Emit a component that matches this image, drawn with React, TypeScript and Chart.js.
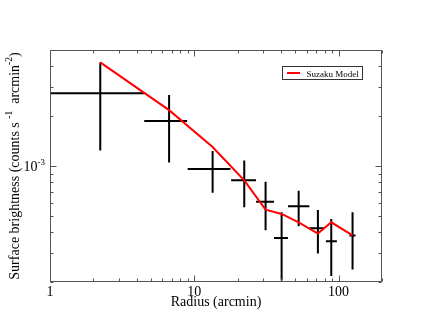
import React, { useEffect, useRef } from "react";
import { Chart, registerables } from "chart.js";

Chart.register(...registerables);

// Data (radius in arcmin, surface brightness in counts s^-1 arcmin^-2)
const radius = [2.23, 6.69, 13.4, 22.2, 31.2, 40.3, 52.9, 71.9, 89.0, 125];
const radiusLo = [0.2, 4.5, 9.0, 18.0, 26.8, 35.7, 44.6, 62.7, 81.7, 119];
const radiusHi = [4.47, 8.92, 17.8, 26.8, 35.7, 44.6, 62.7, 79.1, 97.3, 131];
const brightness = [2.74e-3, 1.87e-3, 9.6e-4, 8.2e-4, 6.1e-4, 3.68e-4, 5.72e-4, 4.21e-4, 3.52e-4, 3.81e-4];
const brightnessHi = [4.21e-3, 2.68e-3, 1.23e-3, 1.08e-3, 8.05e-4, 5.26e-4, 7.1e-4, 5.43e-4, 4.8e-4, 5.26e-4];
const brightnessLo = [1.24e-3, 1.05e-3, 6.9e-4, 5.64e-4, 4.1e-4, 2.04e-4, 4.33e-4, 2.97e-4, 2.17e-4, 2.38e-4];
const suzakuModel = [4.21e-3, 2.17e-3, 1.3e-3, 8.2e-4, 5.46e-4, 5.14e-4, 4.58e-4, 3.92e-4, 4.58e-4, 3.82e-4];

const xMajorTicks = [1, 10, 100];
const xTickLabels = ["1", "10", "100"];
const xMinorTicks = [2, 3, 4, 5, 6, 7, 8, 9, 20, 30, 40, 50, 60, 70, 80, 90, 200];
const yMajorTicks = [1e-3];
const yMinorTicks = [2e-4, 3e-4, 4e-4, 5e-4, 6e-4, 7e-4, 8e-4, 9e-4, 2e-3, 3e-3, 4e-3, 5e-3];

const xTitle = "Radius (arcmin)";
const legendLabel = "Suzaku Model";

const SERIF = "'Liberation Serif', 'Times New Roman', serif";
const AXIS_COLOR = "#555";

const customPlugin = {
  id: "customDraw",
  beforeDatasetsDraw(chart: any) {
    const { ctx, chartArea: a, scales } = chart;
    const x = scales.x, y = scales.y;
    ctx.save();
    ctx.beginPath();
    ctx.rect(a.left, a.top, a.right - a.left, a.bottom - a.top);
    ctx.clip();
    ctx.strokeStyle = "#000";
    ctx.lineWidth = 2;
    ctx.lineCap = "butt";
    for (let i = 0; i < radius.length; i++) {
      const px = x.getPixelForValue(radius[i]);
      const py = y.getPixelForValue(brightness[i]);
      ctx.beginPath();
      ctx.moveTo(x.getPixelForValue(radiusLo[i]), py);
      ctx.lineTo(x.getPixelForValue(radiusHi[i]), py);
      ctx.moveTo(px, y.getPixelForValue(brightnessHi[i]));
      ctx.lineTo(px, y.getPixelForValue(brightnessLo[i]));
      ctx.stroke();
    }
    ctx.restore();
  },
  afterDraw(chart: any) {
    const { ctx, chartArea: a, scales } = chart;
    const x = scales.x, y = scales.y;
    const L = Math.round(a.left) + 0.5;
    const R = Math.round(a.right) - 0.5;
    const T = Math.round(a.top) + 0.5;
    const B = Math.round(a.bottom) - 0.5;
    ctx.save();
    ctx.strokeStyle = AXIS_COLOR;
    ctx.lineWidth = 1;
    ctx.strokeRect(L, T, R - L, B - T);

    const majorLen = 6, minorLen = 3;
    ctx.beginPath();
    const xt = (v: number, len: number) => {
      const p = Math.round(x.getPixelForValue(v)) + 0.5;
      ctx.moveTo(p, B); ctx.lineTo(p, B - len);
      ctx.moveTo(p, T); ctx.lineTo(p, T + len);
    };
    const yt = (v: number, len: number) => {
      const p = Math.round(y.getPixelForValue(v)) + 0.5;
      ctx.moveTo(L, p); ctx.lineTo(L + len, p);
      ctx.moveTo(R, p); ctx.lineTo(R - len, p);
    };
    xMajorTicks.forEach((v) => xt(v, majorLen));
    xMinorTicks.forEach((v) => xt(v, minorLen));
    yMajorTicks.forEach((v) => yt(v, majorLen));
    yMinorTicks.forEach((v) => yt(v, minorLen));
    ctx.stroke();

    // x tick labels
    ctx.fillStyle = "#000";
    ctx.font = `14px ${SERIF}`;
    ctx.textAlign = "center";
    ctx.textBaseline = "alphabetic";
    xMajorTicks.forEach((v, i) => {
      ctx.fillText(xTickLabels[i], x.getPixelForValue(v), 296);
    });

    // y tick label 10^-3
    yMajorTicks.forEach((v) => {
      const py = y.getPixelForValue(v);
      const exp = String(Math.round(Math.log10(v))).replace("-", "-");
      ctx.font = `9px ${SERIF}`;
      const ew = ctx.measureText(exp).width;
      ctx.font = `14px ${SERIF}`;
      const bw = ctx.measureText("10").width;
      const right = a.left - 5;
      ctx.textAlign = "left";
      ctx.fillText("10", right - ew - bw, py + 5);
      ctx.font = `9px ${SERIF}`;
      ctx.fillText(exp, right - ew, py - 1);
    });

    // x title
    ctx.font = `14px ${SERIF}`;
    ctx.textAlign = "center";
    ctx.fillText(xTitle, (a.left + a.right) / 2, 306);

    // y title with superscripts
    const segs: [string, boolean][] = [
      ["Surface brightness (counts s ", false],
      ["-1", true],
      ["  arcmin", false],
      ["-2", true],
      [")", false],
    ];
    const mainFont = `14px ${SERIF}`;
    const supFont = `9.5px ${SERIF}`;
    let total = 0;
    segs.forEach(([t, sup]) => {
      ctx.font = sup ? supFont : mainFont;
      total += ctx.measureText(t).width;
    });
    ctx.save();
    ctx.translate(19, (a.top + a.bottom) / 2);
    ctx.rotate(-Math.PI / 2);
    ctx.textAlign = "left";
    let cx = -total / 2;
    segs.forEach(([t, sup]) => {
      ctx.font = sup ? supFont : mainFont;
      ctx.fillText(t, cx, sup ? -7 : 0);
      cx += ctx.measureText(t).width;
    });
    ctx.restore();

    // legend
    const lx = 282.5, ly = 66.5, lw = 80, lh = 13;
    ctx.fillStyle = "#fff";
    ctx.fillRect(lx, ly, lw, lh);
    ctx.strokeStyle = "#333";
    ctx.lineWidth = 1;
    ctx.strokeRect(lx, ly, lw, lh);
    ctx.strokeStyle = "#ff0000";
    ctx.lineWidth = 2;
    ctx.beginPath();
    ctx.moveTo(287, 73);
    ctx.lineTo(300, 73);
    ctx.stroke();
    ctx.fillStyle = "#000";
    ctx.font = `9px ${SERIF}`;
    ctx.textAlign = "left";
    ctx.fillText(legendLabel, 306.5, 76.5);
    ctx.restore();
  },
};

export default function App() {
  const canvasRef = useRef<HTMLCanvasElement | null>(null);

  useEffect(() => {
    if (!canvasRef.current) return;
    const chart = new Chart(canvasRef.current, {
      type: "scatter",
      data: {
        datasets: [
          {
            label: legendLabel,
            data: radius.map((r, i) => ({ x: r, y: suzakuModel[i] })),
            showLine: true,
            borderColor: "#ff0000",
            backgroundColor: "#ff0000",
            borderWidth: 2,
            pointRadius: 0,
            tension: 0,
          },
        ],
      },
      options: {
        responsive: false,
        animation: false,
        events: [],
        layout: { padding: { top: 50, right: 48, left: 0, bottom: 0 } },
        plugins: {
          legend: { display: false },
          tooltip: { enabled: false },
        },
        scales: {
          x: {
            type: "logarithmic",
            min: 1,
            max: 200,
            ticks: { display: false },
            grid: { display: false },
            border: { display: false },
            afterFit: (s: any) => {
              s.height = 50;
            },
          },
          y: {
            type: "logarithmic",
            min: 2e-4,
            max: 5e-3,
            ticks: { display: false },
            grid: { display: false },
            border: { display: false },
            afterFit: (s: any) => {
              s.width = 50;
            },
          },
        },
      } as any,
      plugins: [customPlugin],
    });
    return () => chart.destroy();
  }, []);

  return (
    <div style={{ position: "fixed", left: 0, top: 0, width: 430, height: 332, background: "#fff" }}>
      <canvas ref={canvasRef} width={430} height={332} style={{ width: 430, height: 332, display: "block" }} />
    </div>
  );
}
